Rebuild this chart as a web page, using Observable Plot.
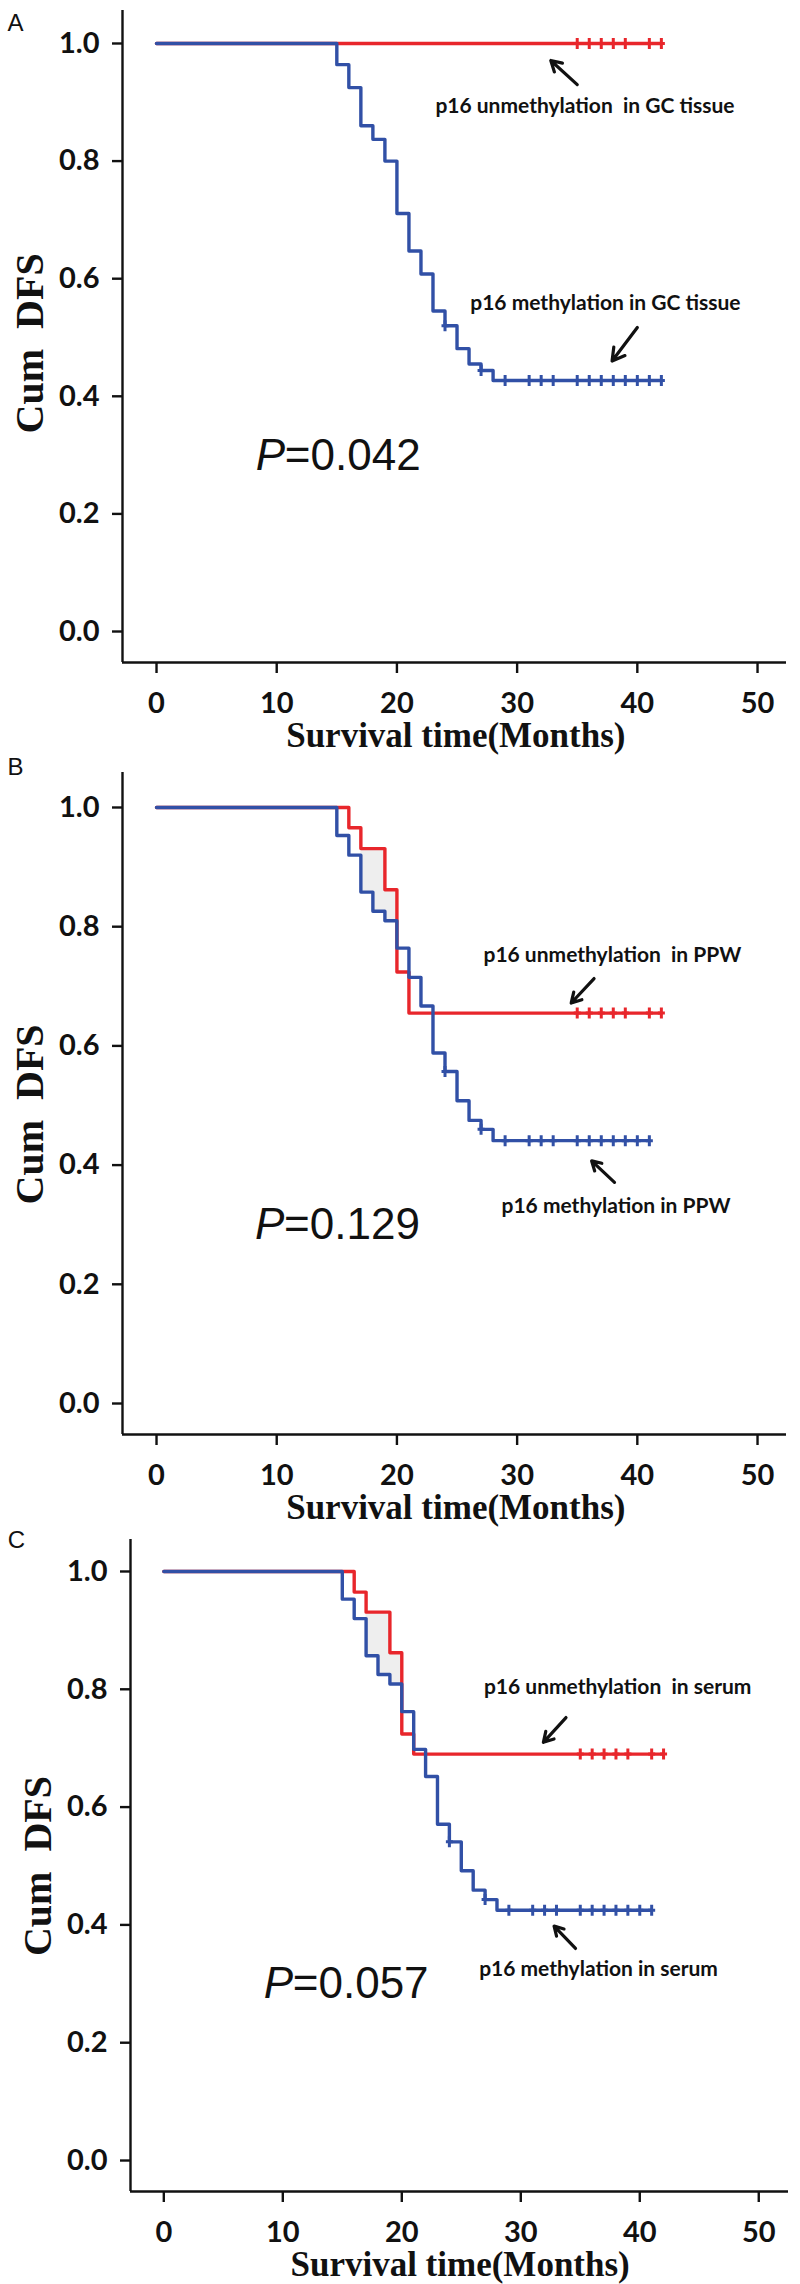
<!DOCTYPE html>
<html>
<head>
<meta charset="utf-8">
<script src="https://cdn.jsdelivr.net/npm/d3@7"></script>
<script src="https://cdn.jsdelivr.net/npm/@observablehq/plot@0.6"></script>
<style>
  html, body { margin: 0; padding: 0; background: #fff; }
  #root { width: 800px; }
  #root > div { line-height: 0; }
</style>
</head>
<body>
<div id="root"></div>
<script>
// ---------- DATA ----------
const yTicks = [0, 0.2, 0.4, 0.6, 0.8, 1.0];
const xTicks = [0, 10, 20, 30, 40, 50];
const xLabel = "Survival time(Months)";
const yLabel = "Cum  DFS";

// Panel A: GC tissue
const aRedT = [0, 42];
const aRedS = [1, 1];
const aRedCensor = [35, 36, 37, 38, 39, 41, 42];
const aBlueT = [0, 15, 16, 17, 18, 19, 20, 21, 22, 23, 24, 25, 26, 27, 28, 42];
const aBlueS = [1, 0.964, 0.925, 0.860, 0.837, 0.800, 0.711, 0.647, 0.608, 0.545, 0.520, 0.481, 0.455, 0.444, 0.427, 0.427];
const aBlueCensor = [24, 27, 29, 31, 32, 33, 35, 36, 37, 38, 39, 40, 41, 42];
const aLabels = ["p16 unmethylation  in GC tissue", "p16 methylation in GC tissue"];
const aLabelX = [23.2, 26.1];
const aLabelY = [0.893, 0.559];
const aArrowFrom = [[35.0, 0.930], [40.0, 0.517]];
const aArrowTo = [[32.8, 0.971], [37.9, 0.460]];
const aP = "=0.042";

// Panel B: PPW
const bRedT = [0, 16, 17, 19, 20, 21, 42];
const bRedS = [1, 0.966, 0.931, 0.862, 0.724, 0.655, 0.655];
const bRedCensor = [35, 36, 37, 38, 39, 41, 42];
const bBlueT = [0, 15, 16, 17, 18, 19, 20, 21, 22, 23, 24, 25, 26, 27, 28, 41];
const bBlueS = [1, 0.953, 0.920, 0.858, 0.826, 0.810, 0.764, 0.715, 0.667, 0.588, 0.557, 0.508, 0.475, 0.460, 0.441, 0.441];
const bBlueCensor = [24, 27, 29, 31, 32, 33, 35, 36, 37, 38, 39, 40, 41];
const bLabels = ["p16 unmethylation  in PPW", "p16 methylation in PPW"];
const bLabelX = [27.2, 28.7];
const bLabelY = [0.752, 0.331];
const bArrowFrom = [[36.4, 0.713], [38.1, 0.371]];
const bArrowTo = [[34.5, 0.672], [36.2, 0.407]];
const bP = "=0.129";

// Panel C: serum
const cRedT = [0, 16, 17, 19, 20, 21, 42];
const cRedS = [1, 0.965, 0.931, 0.862, 0.724, 0.690, 0.690];
const cRedCensor = [35, 36, 37, 38, 39, 41, 42];
const cBlueT = [0, 15, 16, 17, 18, 19, 20, 21, 22, 23, 24, 25, 26, 27, 28, 41];
const cBlueS = [1, 0.953, 0.920, 0.857, 0.825, 0.809, 0.762, 0.698, 0.652, 0.571, 0.541, 0.492, 0.459, 0.443, 0.425, 0.425];
const cBlueCensor = [24, 27, 29, 31, 32, 33, 35, 36, 37, 38, 39, 40, 41];
const cLabels = ["p16 unmethylation  in serum", "p16 methylation in serum"];
const cLabelX = [26.9, 26.5];
const cLabelY = [0.804, 0.325];
const cArrowFrom = [[33.8, 0.752], [34.6, 0.360]];
const cArrowTo = [[31.9, 0.710], [32.8, 0.398]];
const cP = "=0.057";

// shaded gap between curves (panels B and C)
const shadeT = [17, 18, 19, 20];

// ---------- STYLE ----------
const RED = "#e8262b";
const BLUE = "#3150a6";
const SHADE = "#eeeeee";

function stepAt(T, S, t) {
  let v = S[0];
  for (let i = 0; i < T.length; i++) if (T[i] <= t) v = S[i];
  return v;
}

const censorSymbol = {
  draw(ctx) {
    ctx.moveTo(0, -5.5); ctx.lineTo(0, 5.5);
    ctx.moveTo(-3.5, 0); ctx.lineTo(3.5, 0);
  }
};

function panel(cfg) {
  const red = cfg.redT.map((t, i) => ({t, s: cfg.redS[i]}));
  const blue = cfg.blueT.map((t, i) => ({t, s: cfg.blueS[i]}));
  const redC = cfg.redCensor.map(t => ({t, s: stepAt(cfg.redT, cfg.redS, t)}));
  const blueC = cfg.blueCensor.map(t => ({t, s: stepAt(cfg.blueT, cfg.blueS, t)}));
  const labels = cfg.labels.map((text, i) => ({text, x: cfg.labelX[i], y: cfg.labelY[i]}));
  const arrows = cfg.arrowFrom.map((f, i) => ({x1: f[0], y1: f[1], x2: cfg.arrowTo[i][0], y2: cfg.arrowTo[i][1]}));
  const marks = [];
  if (cfg.shade) {
    const sh = shadeT.map(t => ({t, lo: stepAt(cfg.blueT, cfg.blueS, t), hi: stepAt(cfg.redT, cfg.redS, t)}));
    marks.push(Plot.areaY(sh, {x: "t", y1: "lo", y2: "hi", curve: "step-after", fill: SHADE}));
  }
  marks.push(
    Plot.ruleX([cfg.xDomain[0]], {stroke: "#111", strokeWidth: 2.4}),
    Plot.ruleY([cfg.yDomain[0]], {stroke: "#111", strokeWidth: 2.4}),
    Plot.axisY({ticks: yTicks, tickFormat: d3.format(".1f"), tickSize: 10, tickPadding: 13, strokeWidth: 2.4, label: null,
      fontSize: 29, fontWeight: "bold", fontFamily: "Lato"}),
    Plot.axisX({ticks: xTicks, tickSize: 11, tickPadding: 19, strokeWidth: 2.4, label: null,
      fontSize: 29, fontWeight: "bold", fontFamily: "Lato"}),
    Plot.line(red, {x: "t", y: "s", curve: "step-after", stroke: RED, strokeWidth: 3.4}),
    Plot.line(blue, {x: "t", y: "s", curve: "step-after", stroke: BLUE, strokeWidth: 3.4}),
    Plot.dot(redC, {x: "t", y: "s", symbol: censorSymbol, stroke: RED, fill: "none", strokeWidth: 3}),
    Plot.dot(blueC, {x: "t", y: "s", symbol: censorSymbol, stroke: BLUE, fill: "none", strokeWidth: 3}),
    Plot.text(labels, {x: "x", y: "y", text: "text", textAnchor: "start", lineAnchor: "middle",
      fontFamily: "Lato", fontWeight: "bold", fontSize: 21, fill: "#111"}),
    Plot.arrow(arrows, {x1: "x1", y1: "y1", x2: "x2", y2: "y2", stroke: "#111", strokeWidth: 3.2, headLength: 9}),
    Plot.text(["P"], {x: cfg.pX, y: cfg.pY, textAnchor: "start", lineAnchor: "middle",
      fontFamily: "Liberation Sans", fontStyle: "italic", fontSize: 44, fill: "#111"}),
    Plot.text([cfg.p], {x: cfg.pX, y: cfg.pY, dx: 29, textAnchor: "start", lineAnchor: "middle",
      fontFamily: "Liberation Sans", fontSize: 44, fill: "#111"}),
    Plot.text([yLabel], {frameAnchor: "left", y: cfg.yLabelY, dx: cfg.yLabelDx, rotate: -90, textAnchor: "middle", lineAnchor: "middle",
      fontFamily: "Liberation Serif", fontWeight: "bold", fontSize: 40, fill: "#111"}),
    Plot.text([xLabel], {frameAnchor: "bottom", x: cfg.xLabelX, dy: 73, textAnchor: "middle", lineAnchor: "middle",
      fontFamily: "Liberation Serif", fontWeight: "bold", fontSize: 35, fill: "#111"}),
    Plot.text([cfg.letter], {frameAnchor: "top-left", dx: cfg.letterDx, dy: cfg.letterDy, textAnchor: "middle", lineAnchor: "middle",
      fontFamily: "Liberation Sans", fontSize: 24, fill: "#111"})
  );
  return Plot.plot({
    width: 800,
    height: cfg.height,
    marginTop: cfg.marginTop,
    marginBottom: cfg.marginBottom,
    marginLeft: cfg.marginLeft,
    marginRight: cfg.marginRight,
    x: {domain: cfg.xDomain},
    y: {domain: cfg.yDomain},
    style: {fontFamily: "Lato", color: "#111", background: "#fff", overflow: "visible"},
    marks
  });
}

const panels = [
  {letter: "A", height: 758, marginTop: 10, marginBottom: 96, marginLeft: 122, marginRight: 14,
   xDomain: [-2.83, 52.41], yDomain: [-0.0527, 1.0561],
   redT: aRedT, redS: aRedS, redCensor: aRedCensor, blueT: aBlueT, blueS: aBlueS, blueCensor: aBlueCensor,
   labels: aLabels, labelX: aLabelX, labelY: aLabelY, arrowFrom: aArrowFrom, arrowTo: aArrowTo,
   p: aP, pX: 8.26, pY: 0.299, shade: false,
   yLabelY: 0.49, yLabelDx: -92, xLabelX: 24.9, letterDx: -107, letterDy: 13},
  {letter: "B", height: 771, marginTop: 14, marginBottom: 95, marginLeft: 122, marginRight: 14,
   xDomain: [-2.83, 52.41], yDomain: [-0.052, 1.0587],
   redT: bRedT, redS: bRedS, redCensor: bRedCensor, blueT: bBlueT, blueS: bBlueS, blueCensor: bBlueCensor,
   labels: bLabels, labelX: bLabelX, labelY: bLabelY, arrowFrom: bArrowFrom, arrowTo: bArrowTo,
   p: bP, pX: 8.2, pY: 0.299, shade: true,
   yLabelY: 0.485, yLabelDx: -92, xLabelX: 24.9, letterDx: -107, letterDy: -5},
  {letter: "C", height: 755, marginTop: 10, marginBottom: 93, marginLeft: 130, marginRight: 12,
   xDomain: [-2.8, 52.5], yDomain: [-0.0526, 1.0543],
   redT: cRedT, redS: cRedS, redCensor: cRedCensor, blueT: cBlueT, blueS: cBlueS, blueCensor: cBlueCensor,
   labels: cLabels, labelX: cLabelX, labelY: cLabelY, arrowFrom: cArrowFrom, arrowTo: cArrowTo,
   p: cP, pX: 8.4, pY: 0.300, shade: true,
   yLabelY: 0.5, yLabelDx: -92, xLabelX: 24.9, letterDx: -114, letterDy: 1}
];

const root = document.getElementById("root");
for (const cfg of panels) {
  const div = document.createElement("div");
  div.appendChild(panel(cfg));
  root.appendChild(div);
}
</script>
</body>
</html>
